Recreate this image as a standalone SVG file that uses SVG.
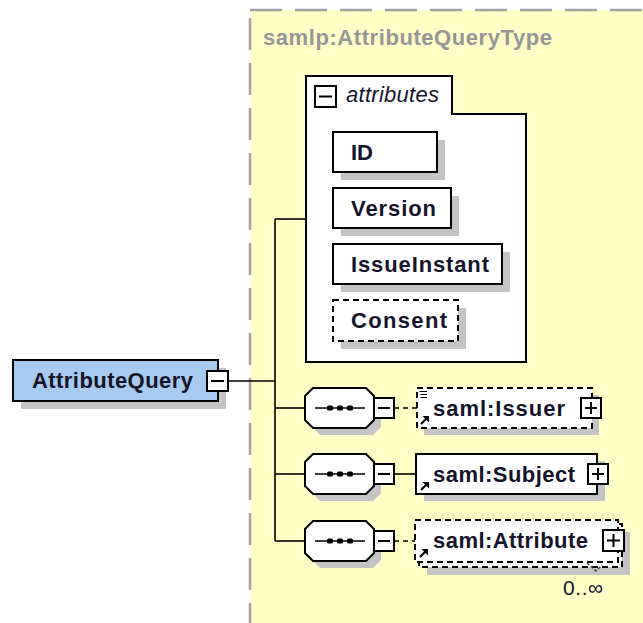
<svg xmlns="http://www.w3.org/2000/svg" width="643" height="623" viewBox="0 0 643 623">
<defs>
<style>
.bg{fill:#ffffc6;stroke:#a2a2a2;stroke-width:2.5;stroke-dasharray:32,13}
.title{font-family:"Liberation Sans",Arial,sans-serif;font-weight:bold;font-size:22px;fill:#969696}
.lbl{font-family:"Liberation Sans",Arial,sans-serif;font-weight:bold;font-size:22px;fill:#14142a}
.ital{font-family:"Liberation Sans",Arial,sans-serif;font-style:italic;font-size:22px;fill:#14142a}
.occ{font-family:"Liberation Sans",Arial,sans-serif;font-size:21px;fill:#14142a}
.sh{fill:#c4c4c4;stroke:none}
.box{fill:#ffffff;stroke:#000;stroke-width:2}
.dbox{fill:#ffffff;stroke:#000;stroke-width:2;stroke-dasharray:6,4}
.blue{fill:#a6caf0;stroke:#000;stroke-width:2}
.ico{fill:#ffffff;stroke:#000;stroke-width:2}
.icl{stroke:#000;stroke-width:2;fill:none}
.con{stroke:#000;stroke-width:1.6;fill:none}
.dcon{stroke:#000;stroke-width:1.6;fill:none;stroke-dasharray:5,4}
.thin{stroke:#000;stroke-width:1.2;fill:none}
</style>
</defs>

<g id="type-AttributeQueryType">
<rect class="bg" x="250" y="10" width="440" height="660"/>
<text class="title" x="263" y="45" textLength="289">samlp:AttributeQueryType</text>
</g>

<g id="connectors">
<path class="con" d="M229,381 H275"/>
<path class="con" d="M275,219 V541"/>
<path class="con" d="M275,219 H306"/>
<path class="con" d="M275,408 H305"/>
<path class="con" d="M275,474 H305"/>
<path class="con" d="M275,541 H305"/>
<path class="dcon" d="M394,408 H417"/>
<path class="con" d="M394,474 H416"/>
<path class="dcon" d="M394,541 H415"/>
</g>

<g id="node-AttributeQuery">
<rect class="sh" x="21" y="368" width="205" height="41"/>
<rect class="blue" x="13" y="360" width="205" height="41"/>
<text class="lbl" x="32" y="388" textLength="161">AttributeQuery</text>
<rect class="ico" x="207" y="371" width="21" height="20"/>
<path class="icl" d="M211,381 H224"/>
</g>

<g id="node-attributes">
<path class="box" d="M306,76 H452 V114 H526 V362 H306 Z"/>
<rect class="ico" x="315" y="86" width="21" height="21"/>
<path class="icl" d="M319,96.5 H332"/>
<text class="ital" x="346" y="102" textLength="93">attributes</text>
</g>

<g id="attr-ID">
<rect class="sh" x="341" y="140" width="104" height="40"/>
<rect class="box" x="333" y="132" width="104" height="40"/>
<text class="lbl" x="351" y="160">ID</text>
</g>

<g id="attr-Version">
<rect class="sh" x="341" y="196" width="118" height="40"/>
<rect class="box" x="333" y="188" width="118" height="40"/>
<text class="lbl" x="351" y="216" textLength="85">Version</text>
</g>

<g id="attr-IssueInstant">
<rect class="sh" x="341" y="252" width="169" height="40"/>
<rect class="box" x="333" y="244" width="169" height="40"/>
<text class="lbl" x="351" y="272" textLength="138">IssueInstant</text>
</g>

<g id="attr-Consent">
<rect class="sh" x="341" y="308" width="125" height="41"/>
<rect class="dbox" x="333" y="300" width="125" height="41"/>
<text class="lbl" x="351" y="328" textLength="96">Consent</text>
</g>

<g id="seq-1" transform="translate(0,408)">
<polygon class="sh" points="320,-13 373,-13 381,-5 381,19 373,27 320,27 312,19 312,-5"/>
<polygon class="box" points="313,-20 366,-20 374,-12 374,12 366,20 313,20 305,12 305,-12"/>
<path class="con" d="M315,0 H365"/>
<rect x="327" y="-2.5" width="6" height="5" rx="1.5" fill="#000"/>
<rect x="337" y="-2.5" width="6" height="5" rx="1.5" fill="#000"/>
<rect x="347" y="-2.5" width="6" height="5" rx="1.5" fill="#000"/>
<rect class="ico" x="374" y="-10" width="20" height="20"/>
<path class="icl" d="M378,0 H390"/>
</g>

<g id="seq-2" transform="translate(0,474)">
<polygon class="sh" points="320,-13 373,-13 381,-5 381,19 373,27 320,27 312,19 312,-5"/>
<polygon class="box" points="313,-20 366,-20 374,-12 374,12 366,20 313,20 305,12 305,-12"/>
<path class="con" d="M315,0 H365"/>
<rect x="327" y="-2.5" width="6" height="5" rx="1.5" fill="#000"/>
<rect x="337" y="-2.5" width="6" height="5" rx="1.5" fill="#000"/>
<rect x="347" y="-2.5" width="6" height="5" rx="1.5" fill="#000"/>
<rect class="ico" x="374" y="-10" width="20" height="20"/>
<path class="icl" d="M378,0 H390"/>
</g>

<g id="seq-3" transform="translate(0,541)">
<polygon class="sh" points="320,-13 373,-13 381,-5 381,19 373,27 320,27 312,19 312,-5"/>
<polygon class="box" points="313,-20 366,-20 374,-12 374,12 366,20 313,20 305,12 305,-12"/>
<path class="con" d="M315,0 H365"/>
<rect x="327" y="-2.5" width="6" height="5" rx="1.5" fill="#000"/>
<rect x="337" y="-2.5" width="6" height="5" rx="1.5" fill="#000"/>
<rect x="347" y="-2.5" width="6" height="5" rx="1.5" fill="#000"/>
<rect class="ico" x="374" y="-10" width="20" height="20"/>
<path class="icl" d="M378,0 H390"/>
</g>

<g id="el-Issuer">
<rect class="sh" x="424" y="395" width="175" height="40"/>
<rect class="dbox" x="417" y="388" width="175" height="40"/>
<path class="thin" d="M419.5,391.5 H427 M420.5,394.5 H427 M420.5,397.5 H427"/>
<path d="M421,424 L426,419" stroke="#000" stroke-width="2.2"/>
<polygon points="429,416 429,422.5 422.5,416" fill="#000"/>
<text class="lbl" x="433" y="416" textLength="132">saml:Issuer</text>
<rect class="ico" x="581" y="398" width="20" height="20"/>
<path class="icl" d="M585,408 H597 M591,402 V414"/>
</g>

<g id="el-Subject">
<rect class="sh" x="424" y="461" width="181" height="40"/>
<rect class="box" x="416" y="454" width="181" height="40"/>
<path d="M421,490 L426,485" stroke="#000" stroke-width="2.2"/>
<polygon points="429,482 429,488.5 422.5,482" fill="#000"/>
<text class="lbl" x="433" y="482" textLength="142">saml:Subject</text>
<rect class="ico" x="588" y="464" width="20" height="20"/>
<path class="icl" d="M592,474 H604 M598,468 V480"/>
</g>

<g id="el-Attribute">
<rect class="sh" x="427" y="532" width="203" height="43"/>
<rect class="dbox" x="419" y="524" width="203" height="43"/>
<rect class="dbox" x="415" y="520" width="203" height="42"/>
<path d="M420,557 L425,552" stroke="#000" stroke-width="2.2"/>
<polygon points="428,549 428,555.5 421.5,549" fill="#000"/>
<text class="lbl" x="433" y="548" textLength="155">saml:Attribute</text>
<rect class="ico" x="603" y="530" width="21" height="21"/>
<path class="icl" d="M607,540.5 H620 M613.5,534 V547"/>
<path d="M587,563 L596,571 L602,565" stroke="#444" stroke-width="1.4" fill="none" stroke-dasharray="3,2"/>
<text class="occ" x="563" y="595" textLength="40">0..∞</text>
</g>
</svg>
